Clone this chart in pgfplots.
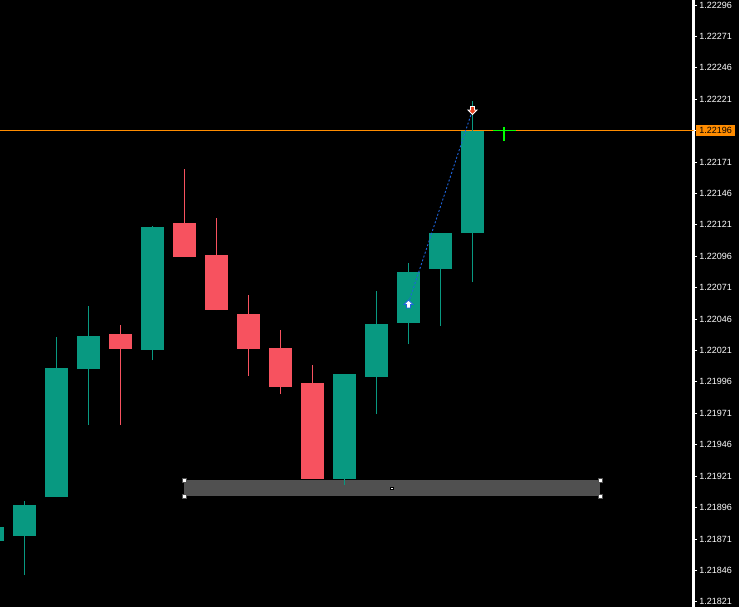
\documentclass[border=0pt]{standalone}
\usepackage{pgfplots}
\pgfplotsset{compat=1.18}
\usepackage{fontspec}
\setmainfont{Liberation Sans}
\definecolor{bull}{HTML}{089981}
\definecolor{bear}{HTML}{F7525F}
\definecolor{mtorange}{HTML}{FF8C00}
\definecolor{boxgray}{HTML}{505050}
\definecolor{arrowblue}{HTML}{1E64DC}
\definecolor{arrowred}{HTML}{E8401E}
\definecolor{lime}{HTML}{00FF00}
\pgfdeclareplotmark{mtup}{%
  \pgfpathmoveto{\pgfpoint{0bp}{4bp}}%
  \pgfpathlineto{\pgfpoint{4.5bp}{-0.5bp}}%
  \pgfpathlineto{\pgfpoint{2bp}{-0.5bp}}%
  \pgfpathlineto{\pgfpoint{2bp}{-4bp}}%
  \pgfpathlineto{\pgfpoint{-2bp}{-4bp}}%
  \pgfpathlineto{\pgfpoint{-2bp}{-0.5bp}}%
  \pgfpathlineto{\pgfpoint{-4.5bp}{-0.5bp}}%
  \pgfpathclose\pgfusepathqfillstroke}
\pgfdeclareplotmark{mtdown}{%
  \pgfpathmoveto{\pgfpoint{0bp}{-4bp}}%
  \pgfpathlineto{\pgfpoint{4.5bp}{0.5bp}}%
  \pgfpathlineto{\pgfpoint{2bp}{0.5bp}}%
  \pgfpathlineto{\pgfpoint{2bp}{4bp}}%
  \pgfpathlineto{\pgfpoint{-2bp}{4bp}}%
  \pgfpathlineto{\pgfpoint{-2bp}{0.5bp}}%
  \pgfpathlineto{\pgfpoint{-4.5bp}{0.5bp}}%
  \pgfpathclose\pgfusepathqfillstroke}
\begin{document}
\begin{tikzpicture}
\fill[black] (0,0) rectangle (739bp,607bp);
\begin{axis}[
  at={(0,0)}, anchor=south west,
  scale only axis, width=693.7bp, height=607bp,
  xmin=-0.765625, xmax=20.9125,
  ymin=1.218168, ymax=1.223,
  axis x line=none, axis y line*=right,
  axis line style={white, line width=2.5bp},
  xtick=\empty,
  ytick={1.21821,1.21846,1.21871,1.21896,1.21921,1.21946,1.21971,1.21996,1.22021,1.22046,1.22071,1.22096,1.22121,1.22146,1.22171,1.22196,1.22221,1.22246,1.22271,1.22296},
  yticklabels={1.21821,1.21846,1.21871,1.21896,1.21921,1.21946,1.21971,1.21996,1.22021,1.22046,1.22071,1.22096,1.22121,1.22146,1.22171,1.22196,1.22221,1.22246,1.22271,1.22296},
  tick align=outside, major tick length=3.5bp,
  ytick style={white, line width=0.8bp},
  yticklabel pos=right,
  yticklabel style={text=white, font=\fontsize{9bp}{10bp}\selectfont, anchor=west, inner sep=0pt, xshift=2bp},
  clip mode=individual,
  unbounded coords=jump,
]
% rectangle object (background)
\addplot[fill=boxgray, draw=none] coordinates {(4.984,1.2190513) (17.984,1.2190513) (17.984,1.2191787) (4.984,1.2191787)} --cycle;
% bid line
\addplot[mtorange, line width=1bp] coordinates {(-0.765625,1.22196) (20.9125,1.22196)};
% wicks
\addplot[bull, line width=1bp] coordinates {
 (0,1.218422) (0,1.219012) (0,nan)
 (1,1.219043) (1,1.220317) (1,nan)
 (2,1.219617) (2,1.220564) (2,nan)
 (4,1.220134) (4,1.221201) (4,nan)
 (10,1.219139) (10,1.220023) (10,nan)
 (11,1.219704) (11,1.220683) (11,nan)
 (12,1.220261) (12,1.220906) (12,nan)
 (13,1.220405) (13,1.221145) (13,nan)
 (14,1.220755) (14,1.222196)};
\addplot[bear, line width=1bp] coordinates {
 (3,1.219617) (3,1.220413) (3,nan)
 (5,1.220954) (5,1.221654) (5,nan)
 (6,1.220532) (6,1.221264) (6,nan)
 (7,1.220007) (7,1.220651) (7,nan)
 (8,1.219863) (8,1.220373) (8,nan)
 (9,1.219187) (9,1.220094)};
% bodies
\addplot[bull, line width=23bp] coordinates {
 (-1,1.218693) (-1,1.218805) (-1,nan)
 (0,1.218733) (0,1.218980) (0,nan)
 (1,1.219043) (1,1.220070) (1,nan)
 (2,1.220062) (2,1.220325) (2,nan)
 (4,1.220214) (4,1.221193) (4,nan)
 (10,1.219187) (10,1.220023) (10,nan)
 (11,1.219999) (11,1.220421) (11,nan)
 (12,1.220429) (12,1.220835) (12,nan)
 (13,1.220858) (13,1.221145) (13,nan)
 (14,1.221145) (14,1.22196)};
\addplot[bear, line width=23bp] coordinates {
 (3,1.220341) (3,1.220222) (3,nan)
 (5,1.221225) (5,1.220954) (5,nan)
 (6,1.220970) (6,1.220532) (6,nan)
 (7,1.220500) (7,1.220222) (7,nan)
 (8,1.220230) (8,1.219919) (8,nan)
 (9,1.219951) (9,1.219187)};
% rectangle handles
\addplot[only marks, mark=square*, mark size=2bp, mark options={fill=white, draw=boxgray, line width=0.7bp}] coordinates {
 (4.984,1.2190513) (17.984,1.2190513) (17.984,1.2191787) (4.984,1.2191787)};
\addplot[only marks, mark=square*, mark size=1.3bp, mark options={fill=white, draw=none}] coordinates {(11.484,1.219115)};
% trade line and arrows
\addplot[arrowblue, line width=0.9bp, dash pattern=on 2bp off 2bp] coordinates {(12,1.220588) (14,1.222124)};
\addplot[only marks, mark=mtup, mark options={fill=white, draw=arrowblue, line width=0.9bp}] coordinates {(12,1.22058)};
\addplot[only marks, mark=mtdown, mark options={fill=arrowred, draw=white, line width=0.9bp}] coordinates {(14,1.22212)};
% crosshair
\addplot[lime, line width=1.2bp] coordinates {(14.64,1.22196) (15.36,1.22196)};
\addplot[lime, line width=1.2bp] coordinates {(14.984,1.221989) (14.984,1.221877)};
% price label
\node[fill=mtorange, inner sep=0pt, minimum width=39bp, minimum height=10.5bp, anchor=west, text=black, font=\fontsize{9bp}{10bp}\selectfont] at (axis cs:20.9125,1.22196) [xshift=2.3bp] {1.22196};
\end{axis}
\pgfresetboundingbox
\path (0,0) rectangle (739bp,607bp);
\end{tikzpicture}
\end{document}
